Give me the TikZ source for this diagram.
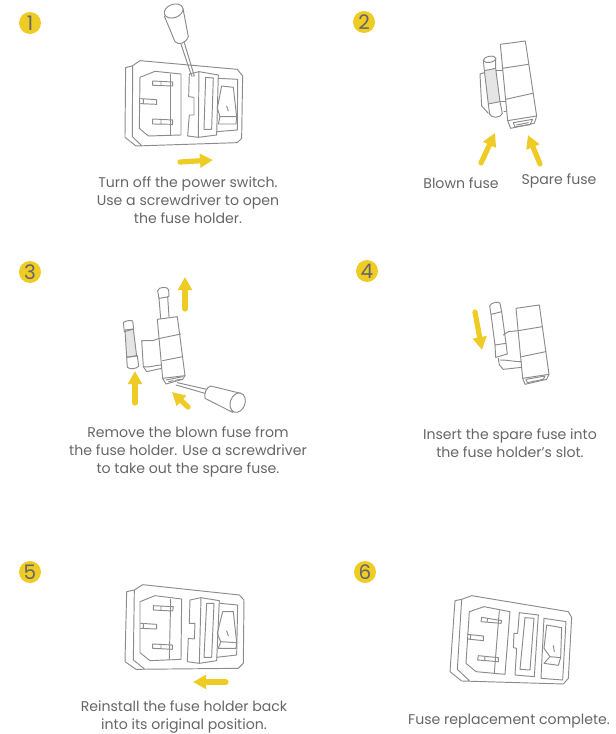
\documentclass[tikz,border=0pt]{standalone}
\usepackage{fontspec}
\setmainfont{Poppins}
\usetikzlibrary{arrows.meta}
\definecolor{fuseyellow}{HTML}{EFCB25}
\definecolor{linegray}{HTML}{8C8C8C}
\definecolor{textgray}{HTML}{666666}
\tikzset{
  outline/.style={draw=linegray,line width=0.95pt},
  yarrow/.style={draw=fuseyellow,line width=5.2pt,-{Triangle[length=13pt,width=13.5pt]}},
  numdot/.style={circle,fill=fuseyellow,minimum size=22pt,inner sep=0pt,text=textgray,font=\fontsize{20}{20}\selectfont},
  caption/.style={align=center,text=textgray,inner sep=0pt,font=\fontsize{14.1}{18}\selectfont},
  panel/.style={outline,x=0.3333pt,y=-0.3333pt},
}
\begin{document}
\begin{tikzpicture}[x=1pt,y=-1pt,line cap=round,line join=round]
  \useasboundingbox (0,0) rectangle (616,734);

  % step numbers
  \node[numdot] (n1) at (30,23) {1};
  \node[numdot] (n2) at (364,22) {2};
  \node[numdot] (n3) at (30,272) {3};
  \node[numdot] (n4) at (367,271) {4};
  \node[numdot] (n5) at (30,572) {5};
  \node[numdot] (n6) at (365,572) {6};

  % step 1
  \begin{scope}[shift={(0,0)},panel]
    \draw (398,197) -- (377,203) -- (375,412) -- (408,438) -- (712,428) -- (725,415) -- (728,228) -- (712,208) -- (420,182) -- (398,197) -- (397,410) -- (425,437);
    \draw (420,232) -- (465,214) -- (543,222) -- (543,405) -- (445,408) -- (418,385) -- cycle;
    \draw (510,222) -- (510,405);
    \draw (458,243) -- (518,246) -- (518,258) -- (458,256) -- cycle (483,244) -- (483,257);
    \draw (422,296) -- (470,299) -- (470,313) -- (422,311) (430,297) -- (430,311);
    \draw (458,357) -- (518,360) -- (518,373) -- (458,372) -- cycle (483,358) -- (483,372);
    \draw (568,222) -- (597,215) -- (655,225) -- (650,405) -- (595,412) -- (563,408) -- (568,345) -- (582,345) -- (582,292) -- (566,290) -- cycle;
    \draw (597,215) -- (595,412);
    \draw (617,232) -- (640,234) -- (635,388) -- (612,388) -- cycle;
    \draw (655,235) -- (713,238) -- (712,390) -- (650,395);
    \draw (665,258) -- (700,262) -- (710,350) -- (660,350) -- (652,325) -- cycle;
    \draw (660,350) -- (655,372) -- (708,372) -- (710,350);
    \draw (680,318) -- (685,333);
    \draw (543,132) -- (575,228) -- (583,228) -- (553,128);
    \draw[fill=white] (493,48) -- (525,125) .. controls (535,137) and (558,130) .. (565,110) -- (549,25);
    \draw[fill=white,rotate around={20:(521,33)}] (521,33) ellipse (29 and 20);
  \end{scope}
  \draw[yarrow] (180,162) -- (213,160);
  \node[caption] (t1) at (188,200) {Turn off the power switch.\\Use a screwdriver to open\\the fuse holder.};

  % step 2
  \begin{scope}[shift={(340,0)},panel]
    \draw (481,133) -- (556,123) -- (590,348) -- (583,370) -- (512,385) -- (503,362) -- cycle;
    \draw (487,205) -- (565,193) (497,298) -- (578,280) (503,362) -- (590,348);
    \draw (520,368) -- (578,358) -- (570,374) -- (525,381) -- cycle;
    \draw (530,375) -- (565,368);
    \draw (433,218) -- (420,222) -- (425,318) -- (445,340);
    \draw (467,210) -- (487,210) (482,305) -- (497,305) (492,335) -- (498,335);
    \draw[fill=gray!20] (433,212) -- (467,205) -- (480,305) -- (445,312) -- cycle;
    \draw (433,212) -- (430,180) (467,205) -- (467,175);
    \draw[fill=white,rotate around={10:(449,178)}] (449,178) ellipse (19 and 9);
    \draw (445,312) -- (449,342) (480,305) -- (487,340);
    \draw (449,342) .. controls (452,356) and (485,354) .. (487,340);
  \end{scope}
  \draw[yarrow] (481,163) -- (495,133);
  \draw[yarrow] (540,164) -- (528,135);
  \node[caption] (t2a) at (461,183) {Blown fuse};
  \node[caption] (t2b) at (559,181) {Spare fuse};

  % step 3
  \begin{scope}[shift={(90,270)},panel]
    \draw (202,148) -- (262,140) -- (285,317) -- (278,328) -- (228,342) -- (218,325) -- cycle;
    \draw (210,205) -- (273,192) (218,272) -- (278,260) (218,325) -- (285,317);
    \draw (228,330) -- (278,320) (236,335) -- (250,332) (256,331) -- (272,328);
    \draw (212,145) -- (207,85) (237,140) -- (233,80);
    \draw (203,62) .. controls (205,50) and (234,48) .. (236,60) -- (237,80) -- (207,85) -- cycle;
    \draw (208,205) -- (188,212) -- (155,212) -- (160,290) -- (170,305) -- (215,295);
    \draw (160,290) to[out=-10,in=180] (215,285);
    \draw[fill=gray!20] (105,180) -- (130,177) -- (140,258) -- (110,262) -- cycle;
    \draw (103,185) -- (100,158) .. controls (104,152) and (124,150) .. (128,153) -- (131,177) -- cycle;
    \draw (110,262) -- (142,257) -- (146,288) (110,262) -- (112,292);
    \draw (112,292) .. controls (120,299) and (140,297) .. (146,288);
    \draw (262,338) -- (350,358) (258,345) -- (345,370);
    \draw[fill=white] (362,348) -- (452,370) -- (428,427) -- (345,385) .. controls (342,368) and (350,352) .. (362,348);
    \draw[fill=white,rotate around={-20:(443,398)}] (443,398) ellipse (22 and 30);
  \end{scope}
  \draw[yarrow] (185,309) -- (185,277);
  \draw[yarrow] (135,403) -- (135,371);
  \draw[yarrow] (188,407) -- (172,392);
  \node[caption] (t3) at (188,452) {Remove the blown fuse from\\the fuse holder. Use a screwdriver\\to take out the spare fuse.};

  % step 4
  \begin{scope}[shift={(450,280)},panel]
    \draw (198,85) -- (268,75) -- (297,283) -- (290,298) -- (225,313) -- (218,295) -- cycle;
    \draw (205,152) -- (277,140) (215,230) -- (287,215) (218,295) -- (297,283);
    \draw (228,298) -- (285,288) -- (280,298) -- (232,308) -- cycle;
    \draw (160,165) -- (175,155) -- (205,152);
    \draw (145,235) -- (148,255) -- (160,268) -- (215,262);
    \draw (150,240) to[out=0,in=180] (215,245);
    \draw (123,103) -- (155,95) -- (168,190) -- (135,195) -- cycle;
    \draw (123,103) -- (119,78) .. controls (122,68) and (148,62) .. (150,70) -- (155,95);
    \draw (135,195) -- (137,232) -- (172,222) -- (168,190);
  \end{scope}
  \draw[yarrow] (475,312) -- (482,350);
  \node[caption] (t4) at (510,443) {Insert the spare fuse into\\the fuse holder's slot.};

  % step 5
  \begin{scope}[shift={(100,570)},panel]
    \draw (103,60) -- (80,65) -- (75,275) -- (108,298) -- (415,295) -- (430,280) -- (432,90) -- (418,75) -- (128,44) -- (103,60) -- (100,270) -- (135,298);
    \draw (120,95) -- (165,77) -- (245,87) -- (243,268) -- (150,272) -- (120,248) -- cycle;
    \draw (212,88) -- (208,268);
    \draw (160,107) -- (220,110) -- (218,123) -- (160,120) -- cycle (183,108) -- (183,121);
    \draw (122,160) -- (170,163) -- (170,177) -- (122,175) (130,161) -- (130,175);
    \draw (158,222) -- (217,225) -- (217,238) -- (158,235) -- cycle (183,223) -- (183,236);
    \draw (270,90) -- (303,83) -- (358,92) -- (350,272) -- (298,280) -- (262,275) -- (265,205) -- (283,207) -- (285,160) -- (268,160) -- cycle;
    \draw (303,83) -- (298,280);
    \draw (320,100) -- (342,100) -- (335,262) -- (312,262) -- cycle;
    \draw (360,100) -- (413,105) -- (410,255) -- (350,262);
    \draw (368,125) -- (400,125) -- (410,218) -- (362,215) -- (352,190) -- cycle;
    \draw (362,215) -- (355,235) -- (408,235) -- (410,218);
    \draw (380,183) -- (385,197);
  \end{scope}
  \draw[yarrow] (226,682) -- (193,682);
  \node[caption] (t5) at (184,717) {Reinstall the fuse holder back\\into its original position.};

  % step 6
  \begin{scope}[shift={(440,580)},panel]
    \draw (65,58) -- (45,62) -- (30,275) -- (65,303) -- (370,312) -- (385,295) -- (395,112) -- (385,95) -- (95,47) -- (65,58) -- (52,268) -- (88,302);
    \draw (88,95) -- (132,80) -- (210,95) -- (195,283) -- (108,275) -- (78,250) -- cycle;
    \draw (178,92) -- (163,278);
    \draw (125,112) -- (185,122) -- (183,130) -- (123,125) -- cycle (143,115) -- (141,127);
    \draw (82,163) -- (130,168) -- (130,182) -- (82,177) (92,164) -- (91,178);
    \draw (115,227) -- (175,233) -- (175,245) -- (113,240) -- cycle (135,229) -- (134,242);
    \draw (238,98) -- (295,105) -- (283,290) -- (225,285) -- (230,205) -- (220,203) -- (222,160) -- (233,160) -- cycle;
    \draw (255,113) -- (282,115) -- (270,270) -- (240,268) -- cycle;
    \draw (312,115) -- (378,125) -- (368,300) -- (303,295) -- cycle;
    \draw (320,135) -- (365,143) -- (362,233) -- (330,230) -- (312,205) -- cycle;
    \draw (330,230) -- (312,250) -- (355,256) -- (362,233);
    \draw (340,197) -- (343,215);
  \end{scope}
  \node[caption] (t6) at (509,721) {Fuse replacement complete.};
\end{tikzpicture}
\end{document}
